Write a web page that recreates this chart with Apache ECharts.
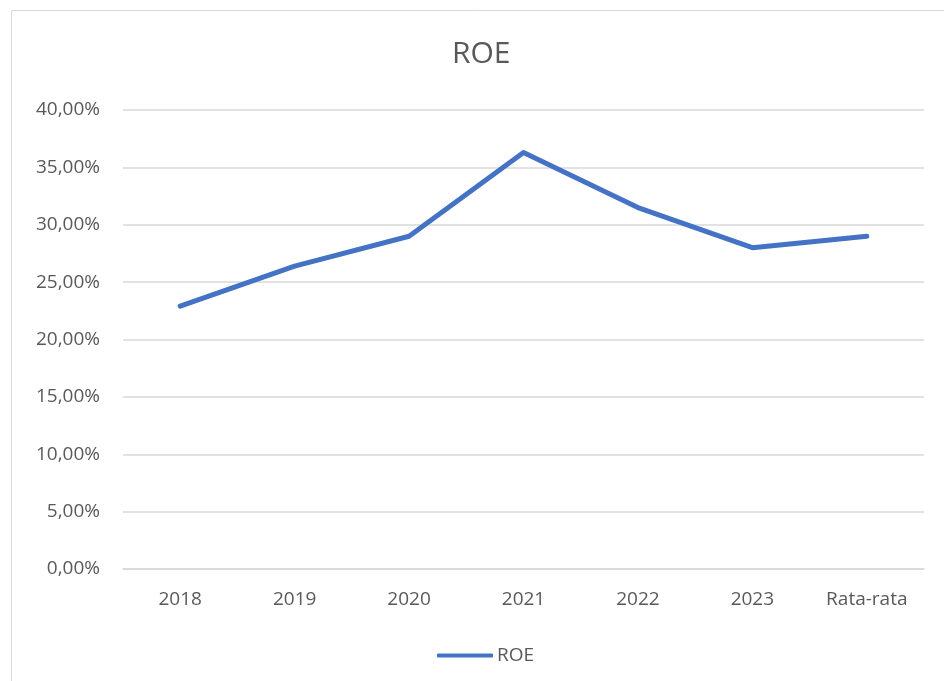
<!DOCTYPE html>
<html>
<head>
<meta charset="utf-8">
<script src="https://cdn.jsdelivr.net/npm/echarts@6/dist/echarts.min.js"></script>
<style>
    html, body { margin: 0; padding: 0; background: #fff; }
    #chart { width: 944px; height: 681px; }
</style>
</head>
<body>
<div id="chart"></div>
<script>
var categories = ['2018', '2019', '2020', '2021', '2022', '2023', 'Rata-rata'];
var roeValues = [0.229, 0.264, 0.290, 0.363, 0.315, 0.280, 0.290];
var yTicks = [0, 0.05, 0.10, 0.15, 0.20, 0.25, 0.30, 0.35, 0.40];

var fontName = 'Open Sans';
var textColor = '#595959';

var myChart = echarts.init(document.getElementById('chart'));

var option = {
    backgroundColor: '#fff',
    animation: false,
    graphic: [{
        type: 'rect',
        shape: { x: 11.5, y: 10.5, width: 1000, height: 1000 },
        style: { fill: 'none', stroke: '#d9d9d9', lineWidth: 1 },
        silent: true
    }, {
        // title, centred on the full (cropped) chart box
        type: 'text',
        left: 452,
        top: 39,
        style: {
            text: 'ROE',
            font: '30px "Open Sans"',
            fill: textColor
        },
        silent: true
    }],
    legend: {
        bottom: 11,
        left: 432,
        itemWidth: 56,
        itemHeight: 4,
        itemGap: 4,
        icon: 'roundRect',
        textStyle: { fontFamily: fontName, fontSize: 19, color: textColor, padding: [0, 0, 0, -1] },
        data: ['ROE']
    },
    grid: { left: 123, right: 20, top: 110, bottom: 112 },
    xAxis: {
        type: 'category',
        data: categories,
        boundaryGap: true,
        axisLine: { lineStyle: { color: '#d9d9d9', width: 1.5 } },
        axisTick: { show: false },
        axisLabel: { fontFamily: fontName, fontSize: 19, color: textColor, margin: 21 }
    },
    yAxis: {
        type: 'value',
        min: yTicks[0],
        max: yTicks[yTicks.length - 1],
        interval: 0.05,
        axisLine: { show: false },
        axisTick: { show: false },
        splitLine: { lineStyle: { color: '#d9d9d9', width: 1.5 } },
        axisLabel: {
            fontFamily: fontName,
            fontSize: 19,
            color: textColor,
            margin: 23,
            formatter: function (v) {
                return (v * 100).toFixed(2).replace('.', ',') + '%';
            }
        }
    },
    series: [{
        name: 'ROE',
        type: 'line',
        data: roeValues,
        showSymbol: false,
        lineStyle: { color: '#4472C4', width: 5, cap: 'round', join: 'round' },
        itemStyle: { color: '#4472C4' }
    }]
};
myChart.setOption(option);
</script>
</body>
</html>
